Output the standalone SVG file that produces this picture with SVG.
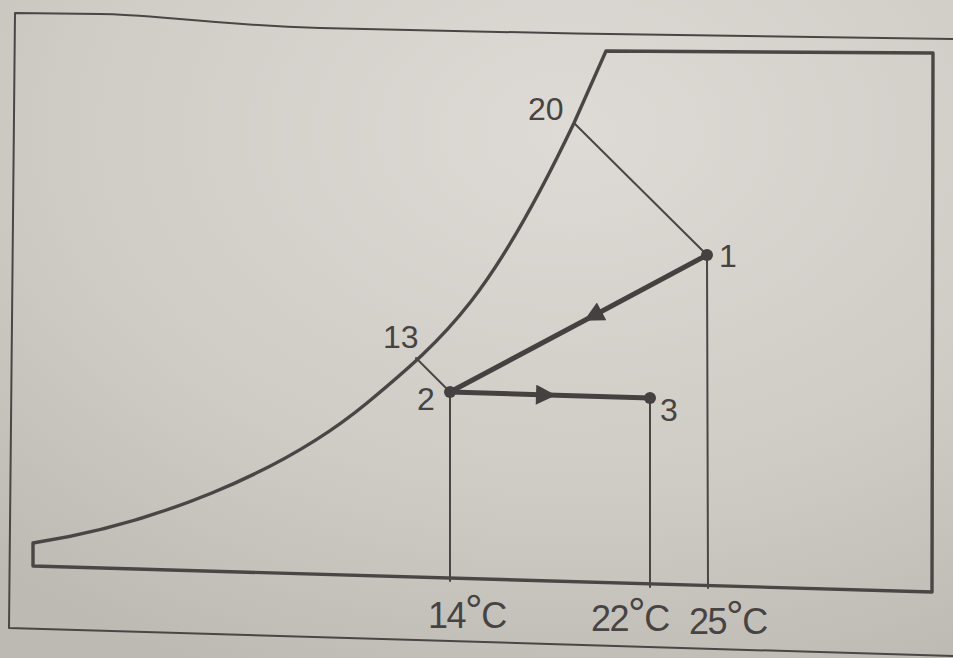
<svg xmlns="http://www.w3.org/2000/svg" width="953" height="658" viewBox="0 0 953 658">
  <defs>
    <radialGradient id="paper" cx="0.6" cy="0.2" r="0.9">
      <stop offset="0" stop-color="#dedbd6"/>
      <stop offset="0.6" stop-color="#cfccc6"/>
      <stop offset="1" stop-color="#bdbab4"/>
    </radialGradient>
    <marker id="arrow" viewBox="0 0 10 10" refX="6" refY="5" markerWidth="5" markerHeight="4" orient="auto" markerUnits="strokeWidth">
      <path d="M0,0 L10,5 L0,10 Z" fill="#454141"/>
    </marker>
  </defs>
  <style>
    .ln { fill: none; stroke: #4a4645; stroke-linejoin: round; stroke-linecap: round; }
    .thin { stroke-width: 2; }
    .chart { stroke-width: 3.4; }
    .proc { stroke-width: 5; fill: none; stroke: #454141; stroke-linecap: round; }
    .dot { fill: #454141; }
    .lbl { font-family: "Liberation Sans", Arial, sans-serif; font-size: 32px; fill: #474343; }
    .ax { font-family: "Liberation Sans", Arial, sans-serif; font-size: 36px; letter-spacing: -1.5px; fill: #474343; }
    .deg { font-size: 44px; }
  </style>
  <rect x="0" y="0" width="953" height="658" fill="url(#paper)"/>

  <g id="frame">
    <path class="ln thin" d="M953,39 C800,38 520,33 320,28 C200,24 150,14 100,14 L15,13 L9,628 L953,656"/>
  </g>

  <g id="chart">
    <path class="ln chart" d="M33,543 C150,525 280,475 367,403 C449,335 492,295 574,123 L606,51 L933,53 L932,592 L33,566 Z"/>
  </g>

  <g id="connectors">
    <line class="ln thin" x1="574" y1="123" x2="707" y2="255"/>
    <line class="ln thin" x1="416" y1="358" x2="450" y2="392"/>
    <line class="ln thin" x1="707" y1="255" x2="708" y2="588"/>
    <line class="ln thin" x1="450" y1="392" x2="450" y2="581"/>
    <line class="ln thin" x1="650" y1="398" x2="650" y2="587"/>
    <polyline class="proc" points="707,255 591,317 450,392" marker-mid="url(#arrow)"/>
    <polyline class="proc" points="450,392 548,395 650,398" marker-mid="url(#arrow)"/>
  </g>

  <g id="point-1">
    <circle class="dot" cx="707" cy="255" r="6"/>
    <text class="lbl" x="719" y="267">1</text>
  </g>
  <g id="point-2">
    <circle class="dot" cx="450" cy="392" r="6"/>
    <text class="lbl" x="417" y="410">2</text>
  </g>
  <g id="point-3">
    <circle class="dot" cx="650" cy="398" r="6"/>
    <text class="lbl" x="660" y="421">3</text>
  </g>
  <g id="label-20">
    <text class="lbl" x="528" y="120">20</text>
  </g>
  <g id="label-13">
    <text class="lbl" x="383" y="348">13</text>
  </g>

  <g id="axis-14">
    <text class="ax" x="428" y="628">14<tspan class="deg" dy="-2">°</tspan><tspan dy="2">C</tspan></text>
  </g>
  <g id="axis-22">
    <text class="ax" x="591" y="631">22<tspan class="deg" dy="-2">°</tspan><tspan dy="2">C</tspan></text>
  </g>
  <g id="axis-25">
    <text class="ax" x="689" y="634">25<tspan class="deg" dy="-2">°</tspan><tspan dy="2">C</tspan></text>
  </g>
</svg>
